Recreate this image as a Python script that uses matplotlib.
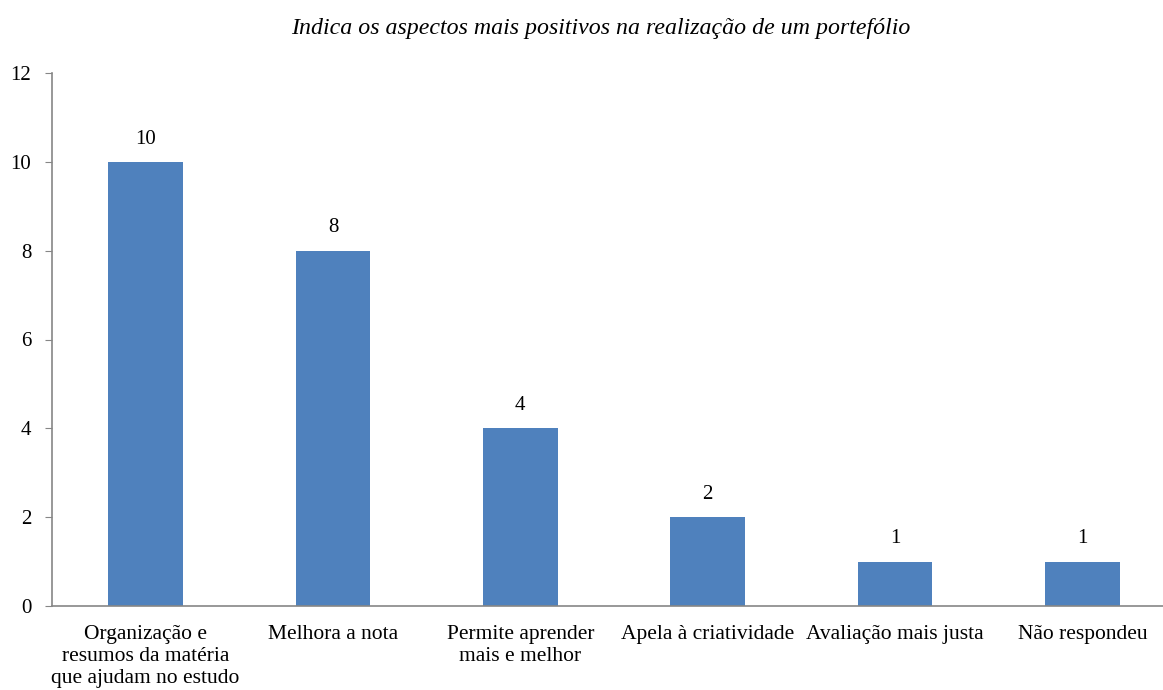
import matplotlib
matplotlib.use("Agg")
import matplotlib.pyplot as plt

# dados do gráfico
categorias = ["Organização e\nresumos da matéria\nque ajudam no estudo",
              "Melhora a nota",
              "Permite aprender\nmais e melhor",
              "Apela à criatividade",
              "Avaliação mais justa",
              "Não respondeu"]
valores = [10, 8, 4, 2, 1, 1]
yticks = [0, 2, 4, 6, 8, 10, 12]
titulo = "Indica os aspectos mais positivos na realização de um portefólio"

plt.rcParams['font.family'] = ['Liberation Serif', 'DejaVu Serif']

fig = plt.figure(figsize=(11.63, 6.9), dpi=100)
# eixo estende-se para lá da margem direita, como no original
ax = fig.add_axes([52/1163, 84/690, 1124/1163, 533/690])

x = range(len(valores))
ax.bar(x, valores, width=0.4, color="#4F81BD", zorder=2)
for xi, v in zip(x, valores):
    ax.text(xi, v + 0.3, str(v), ha="center", va="bottom", fontsize=15)

ax.set_xlim(-0.5, len(valores) - 0.5)
ax.set_ylim(0, 12)
ax.set_yticks(yticks)
ax.set_xticks(list(x))
ax.set_xticklabels(categorias, fontsize=15.5, linespacing=1.2)
ax.tick_params(axis="x", length=0, pad=14)
ax.tick_params(axis="y", direction="out", length=5, color="#868686", labelsize=15, pad=10)

for s in ["top", "right"]:
    ax.spines[s].set_visible(False)
for s in ["left", "bottom"]:
    ax.spines[s].set_color("#868686")
    ax.spines[s].set_linewidth(1.2)

fig.text(0.517, 0.958, titulo, ha="center", va="center", fontsize=17.2, style="italic")

plt.savefig("out.png", dpi=100)
